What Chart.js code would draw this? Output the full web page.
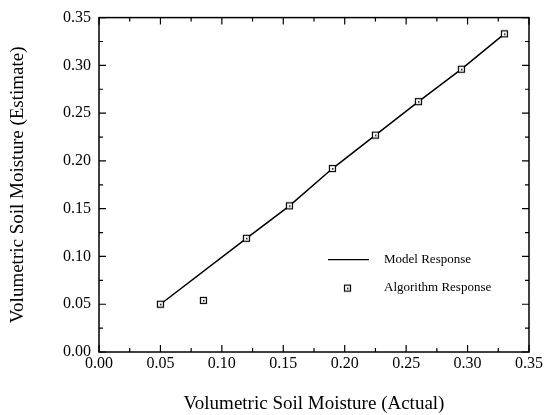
<!DOCTYPE html>
<html>
<head>
<meta charset="utf-8">
<script src="https://cdn.jsdelivr.net/npm/chart.js@4.4.0/dist/chart.umd.min.js"></script>
<style>
  body { margin: 0; background: #fff; }
  #wrap { width: 546px; height: 415px; }
</style>
</head>
<body>
<div id="wrap"><canvas id="myChart" width="546" height="415"></canvas></div>
<script>
// data
const actual = [0.05, 0.085, 0.12, 0.155, 0.19, 0.225, 0.26, 0.295, 0.33];
const algorithm = [0.05, 0.054, 0.119, 0.153, 0.192, 0.227, 0.262, 0.296, 0.333];
const modelX = [0.05, 0.12, 0.155, 0.19, 0.225, 0.26, 0.295, 0.33];
const modelY = [0.05, 0.119, 0.153, 0.192, 0.227, 0.262, 0.296, 0.333];
const tickLabels = ['0.00', '0.05', '0.10', '0.15', '0.20', '0.25', '0.30', '0.35'];

const serif = "'Liberation Serif', 'Times New Roman', serif";

// square marker with a dot in the middle
function makeMarker() {
  const c = document.createElement('canvas');
  c.width = 9; c.height = 9;
  const g = c.getContext('2d');
  g.fillStyle = '#fff';
  g.fillRect(1, 1, 7, 7);
  g.strokeStyle = '#000';
  g.lineWidth = 1.2;
  g.strokeRect(1.5, 1.5, 6, 6);
  g.fillStyle = '#000';
  g.fillRect(4, 4, 1.5, 1.5);
  return c;
}
const marker = makeMarker();

// inward ticks on all four sides, plus the frame
const frameTicks = {
  id: 'frameTicks',
  afterDraw(chart) {
    const ctx = chart.ctx;
    const a = chart.chartArea;
    const xs = chart.scales.x, ys = chart.scales.y;
    ctx.save();
    ctx.strokeStyle = '#000';
    ctx.lineWidth = 1.5;
    ctx.strokeRect(a.left, a.top, a.right - a.left, a.bottom - a.top);
    ctx.lineWidth = 1.2;
    for (let i = 0; i < tickLabels.length * 2 - 1; i++) {
      const v = i * 0.025;
      const len = i % 2 == 0 ? 7 : 4;
      const px = xs.getPixelForValue(v);
      const py = ys.getPixelForValue(v);
      ctx.beginPath();
      ctx.moveTo(px, a.bottom); ctx.lineTo(px, a.bottom - len);
      ctx.moveTo(px, a.top); ctx.lineTo(px, a.top + len);
      ctx.moveTo(a.left, py); ctx.lineTo(a.left + len, py);
      ctx.moveTo(a.right, py); ctx.lineTo(a.right - len, py);
      ctx.stroke();
    }
    ctx.restore();
  }
};

// legend drawn inside the plot
const innerLegend = {
  id: 'innerLegend',
  afterDraw(chart) {
    const ctx = chart.ctx;
    const a = chart.chartArea;
    const ds = chart.data.datasets;
    const x0 = a.left + 229, y0 = a.top + 242;
    ctx.save();
    ctx.font = '13px ' + serif;
    ctx.fillStyle = '#000';
    ctx.textBaseline = 'middle';
    // line sample
    ctx.strokeStyle = '#000';
    ctx.lineWidth = 1.3;
    ctx.beginPath();
    ctx.moveTo(x0, y0); ctx.lineTo(x0 + 41, y0);
    ctx.stroke();
    ctx.fillText(ds[0].label, x0 + 56, y0);
    // marker sample
    ctx.drawImage(marker, x0 + 15, y0 + 24);
    ctx.fillText(ds[1].label, x0 + 56, y0 + 28);
    ctx.restore();
  }
};

const data = {
  datasets: [
    {
      label: 'Model Response',
      data: modelX.map((x, i) => ({ x: x, y: modelY[i] })),
      showLine: true,
      borderColor: '#000',
      borderWidth: 1.5,
      pointRadius: 0,
      order: 2
    },
    {
      label: 'Algorithm Response',
      data: actual.map((x, i) => ({ x: x, y: algorithm[i] })),
      showLine: false,
      pointStyle: marker,
      pointRadius: 4,
      order: 1
    }
  ]
};

const config = {
  type: 'scatter',
  data: data,
  options: {
    responsive: false,
    animation: false,
    layout: { padding: { top: 17, right: 17, left: 0, bottom: 0 } },
    plugins: {
      legend: { display: false },
      tooltip: { enabled: false }
    },
    scales: {
      x: {
        type: 'linear',
        min: 0, max: 0.35,
        afterFit: s => { s.height = 63; },
        afterBuildTicks: s => { s.ticks = tickLabels.map(t => ({ value: parseFloat(t) })); },
        ticks: {
          padding: 2,
          color: '#000',
          font: { family: serif, size: 16 },
          callback: (v, i) => tickLabels[i]
        },
        grid: { display: false, drawTicks: false },
        border: { display: false },
        title: {
          display: true,
          text: 'Volumetric Soil Moisture (Actual)',
          color: '#000',
          font: { family: serif, size: 19 },
          padding: { top: 0, bottom: 0 }
        }
      },
      y: {
        type: 'linear',
        min: 0, max: 0.35,
        afterFit: s => { s.width = 99; },
        afterBuildTicks: s => { s.ticks = tickLabels.map(t => ({ value: parseFloat(t) })); },
        ticks: {
          padding: 8,
          color: '#000',
          font: { family: serif, size: 16 },
          callback: (v, i) => tickLabels[i]
        },
        grid: { display: false, drawTicks: false },
        border: { display: false },
        title: {
          display: true,
          text: 'Volumetric Soil Moisture (Estimate)',
          color: '#000',
          font: { family: serif, size: 19 },
          padding: { top: 7, bottom: 0 }
        }
      }
    }
  },
  plugins: [frameTicks, innerLegend]
};

const myChart = new Chart(document.getElementById('myChart'), config);
</script>
</body>
</html>
